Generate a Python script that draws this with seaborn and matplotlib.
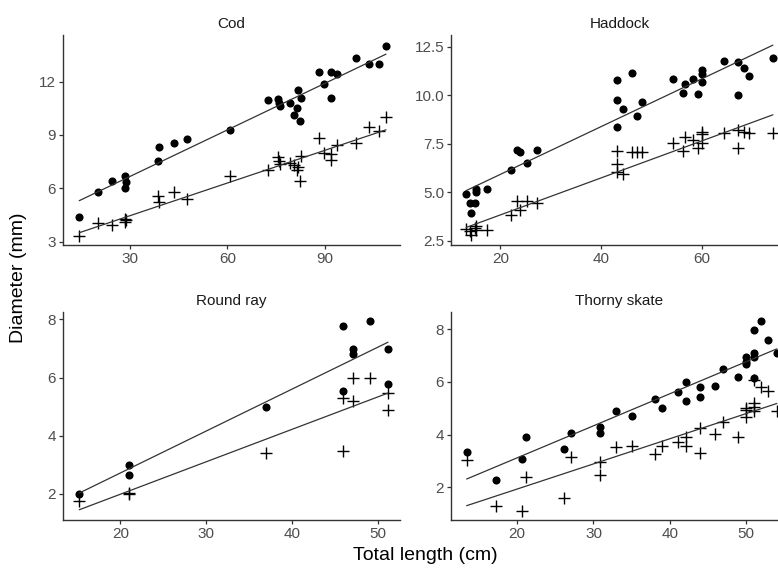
import numpy as np
import pandas as pd
import matplotlib
matplotlib.use("Agg")
import matplotlib.pyplot as plt
import seaborn as sns

# ---------------- data ----------------
species = ["Cod", "Haddock", "Round ray", "Thorny skate"]

cod_length = [14.4, 20.1, 24.6, 28.5, 28.7, 28.6, 38.5, 38.8, 43.7, 47.6, 60.9,
              72.4, 75.6, 76.0, 76.3, 79.4, 81.6, 82.6, 81.4, 80.5, 82.3,
              88.3, 89.8, 91.8, 91.8, 93.8, 99.5, 103.5, 106.7, 108.8]
cod_dots = [4.4, 5.8, 6.4, 6.7, 6.35, 6.0, 7.55, 8.3, 8.55, 8.75, 9.3,
            10.95, 11.0, 10.8, 10.65, 10.8, 11.55, 11.1, 10.5, 10.1, 9.8,
            12.55, 11.85, 12.55, 11.1, 12.4, 13.35, 13.0, 13.0, 14.0]
cod_cross = [3.3, 4.05, 3.95, 4.3, 4.2, 4.1, 5.55, 5.25, 5.8, 5.4, 6.7,
             7.05, 7.75, 7.55, 7.35, 7.4, 7.2, 7.8, 7.0, 7.3, 6.4,
             8.8, 8.0, 7.95, 7.6, 8.45, 8.55, 9.45, 9.2, 10.0]

haddock_length = [13.2, 13.9, 14.1, 15.0, 15.1, 15.2, 17.4, 22.2, 23.3, 23.9, 25.2, 27.2,
                  43.2, 43.2, 43.2, 44.3, 46.1, 47.2, 48.2, 54.2, 56.2, 56.7, 58.2,
                  59.2, 60.1, 60.1, 60.1, 64.3, 67.15, 67.15, 68.3, 69.3, 74.1]
haddock_dots = [4.9, 4.45, 3.95, 4.45, 5.0, 5.15, 5.15, 6.15, 7.2, 7.05, 6.5, 7.2,
                10.8, 9.75, 8.35, 9.3, 11.15, 8.95, 9.65, 10.85, 10.1, 10.6, 10.85,
                10.05, 11.3, 11.1, 10.7, 11.75, 11.7, 10.0, 11.4, 11.0, 11.9]
haddock_cross = [3.1, 3.0, 2.8, 3.15, 3.05, 3.25, 3.05, 3.85, 4.55, 4.1, 4.55, 4.45,
                 7.1, 6.45, 6.05, 5.95, 7.05, 7.05, 7.05, 7.55, 7.1, 7.85, 7.7,
                 7.3, 8.1, 7.55, 8.0, 8.05, 8.2, 7.3, 8.1, 8.05, 8.05]

roundray_length = [15.2, 21.0, 21.0, 37.0, 46.0, 46.0, 47.1, 47.1, 49.1, 51.2, 51.2]
roundray_dots = [2.0, 3.0, 2.64, 5.0, 7.77, 5.54, 6.98, 6.81, 7.95, 6.98, 5.77]
roundray_cross = [1.77, 2.0, 2.02, 3.41, 3.49, 5.31, 5.98, 5.2, 5.98, 5.46, 4.89]

thorny_length = [13.4, 17.25, 20.6, 21.2, 26.1, 27.1, 30.9, 30.9, 33.0, 35.0, 38.0,
                 39.0, 41.0, 42.1, 42.1, 44.0, 44.0, 45.9, 47.0, 48.9, 49.9, 49.9,
                 50.0, 51.0, 51.0, 51.0, 51.0, 51.9, 52.9, 54.0]
thorny_dots = [3.35, 2.28, 3.09, 3.9, 3.44, 4.05, 4.3, 4.05, 4.9, 4.7, 5.35,
               5.0, 5.6, 6.0, 5.28, 5.8, 5.44, 5.84, 6.48, 6.19, 6.93, 6.66,
               6.76, 7.08, 6.93, 7.96, 6.13, 8.3, 7.58, 7.1]
thorny_cross = [3.05, 1.3, 1.1, 2.4, 1.6, 3.15, 2.97, 2.47, 3.52, 3.55, 3.27,
                3.58, 3.73, 3.9, 3.55, 4.24, 3.29, 4.02, 4.47, 3.92, 4.95, 4.65,
                5.0, 5.2, 5.05, 4.9, 6.07, 5.82, 5.66, 4.9]

xticks = {"Cod": [30, 60, 90], "Haddock": [20, 40, 60],
          "Round ray": [20, 30, 40, 50], "Thorny skate": [20, 30, 40, 50]}
yticks = {"Cod": [3, 6, 9, 12], "Haddock": [2.5, 5.0, 7.5, 10.0, 12.5],
          "Round ray": [2, 4, 6, 8], "Thorny skate": [2, 4, 6, 8]}

# ---------------- build tables ----------------
frames = []
for name, L, d, c in [("Cod", cod_length, cod_dots, cod_cross),
                      ("Haddock", haddock_length, haddock_dots, haddock_cross),
                      ("Round ray", roundray_length, roundray_dots, roundray_cross),
                      ("Thorny skate", thorny_length, thorny_dots, thorny_cross)]:
    frames.append(pd.DataFrame({"species": name, "length": L, "dots": d, "cross": c}))
df = pd.concat(frames, ignore_index=True)

# ---------------- style ----------------
sns.set_theme(style="white")
plt.rcParams["font.family"] = ["Liberation Sans", "DejaVu Sans"]

W, H = 778, 572
fig = plt.figure(figsize=(W / 100, H / 100), dpi=100)

def ax_at(l, t, r, b):
    return fig.add_axes([l / W, 1 - b / H, (r - l) / W, (b - t) / H])

layout = {
    "Cod": ((63, 35, 400, 245), (9.4, 113.1), (2.81, 14.62)),
    "Haddock": ((451, 35, 788, 245), (10.2, 77.1), (2.28, 13.1)),
    "Round ray": ((63, 311.7, 400, 520), (13.3, 52.6), (1.107, 8.26)),
    "Thorny skate": ((451, 311.7, 788, 520), (11.35, 55.46), (0.76, 8.66)),
}

line_kws = dict(color="#333333", lw=0.9)
for name in species:
    box, xl, yl = layout[name]
    ax = ax_at(*box)
    sub = df[df["species"] == name]
    sns.regplot(data=sub, x="length", y="dots", ax=ax, ci=None, marker="o",
                scatter_kws=dict(s=34, color="black", linewidths=0, alpha=1),
                line_kws=line_kws)
    sns.regplot(data=sub, x="length", y="cross", ax=ax, ci=None, marker="+",
                scatter_kws=dict(s=70, color="black", linewidths=1.0, alpha=1),
                line_kws=line_kws)
    ax.set_xlim(*xl)
    ax.set_ylim(*yl)
    ax.set_xticks(xticks[name])
    ax.set_yticks(yticks[name])
    if name == "Haddock":
        ax.set_yticklabels([f"{v:.1f}" for v in yticks[name]])
    ax.set_xlabel("")
    ax.set_ylabel("")
    ax.set_title(name, fontsize=11, color="#1a1a1a", pad=5)
    for s in ["top", "right"]:
        ax.spines[s].set_visible(False)
    for s in ["left", "bottom"]:
        ax.spines[s].set_color("#333333")
        ax.spines[s].set_linewidth(1.0)
    ax.tick_params(axis="both", bottom=True, left=True, length=3, width=0.9,
                   color="#333333", labelcolor="#4d4d4d", labelsize=11, pad=2)
    ax.grid(False)

fig.text(19 / W, 1 - 278 / H, "Diameter (mm)", rotation=90, ha="center",
         va="center", fontsize=14, color="black")
fig.text(425.5 / W, 1 - 556 / H, "Total length (cm)", ha="center",
         va="center", fontsize=14, color="black")

fig.savefig("out.png", dpi=100)
